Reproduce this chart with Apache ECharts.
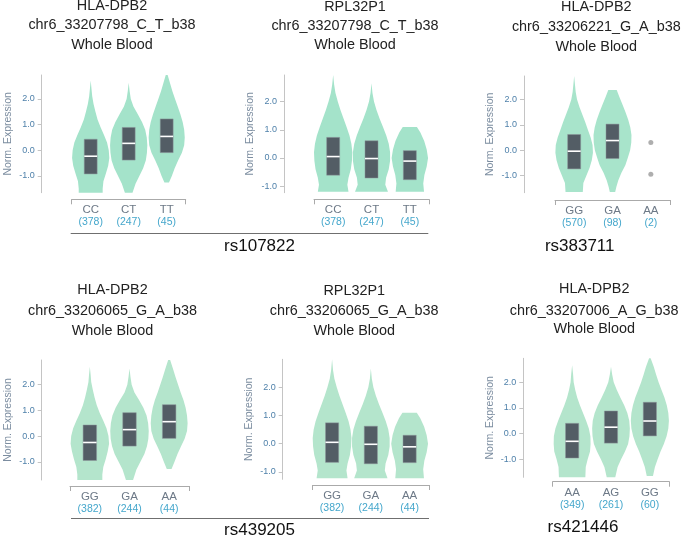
<!DOCTYPE html>
<html><head><meta charset="utf-8">
<script src="https://cdn.jsdelivr.net/npm/echarts@6/dist/echarts.min.js"></script>
<style>html,body{margin:0;padding:0;background:#fff}#c{width:685px;height:537px}</style>
</head><body><div id="c"></div>
<script>
// ---------------- data ----------------
const genes = ['HLA-DPB2','RPL32P1','HLA-DPB2','HLA-DPB2','RPL32P1','HLA-DPB2'];
const variants = ['chr6_33207798_C_T_b38','chr6_33207798_C_T_b38','chr6_33206221_G_A_b38','chr6_33206065_G_A_b38','chr6_33206065_G_A_b38','chr6_33207006_A_G_b38'];
const tissue = 'Whole Blood';
const snps = ['rs107822','rs383711','rs439205','rs421446'];
const genotypes = [['CC','CT','TT'],['CC','CT','TT'],['GG','GA','AA'],['GG','GA','AA'],['GG','GA','AA'],['AA','AG','GG']];
const counts = [[378,247,45],[378,247,45],[570,98,2],[382,244,44],[382,244,44],[349,261,60]];
const yMin = [-1.65,-1.23,-1.68,-1.71,-1.26,-1.70];
const yMax = [2.93,2.94,2.93,2.96,2.99,2.93];
const q1 = [[-0.92,-0.38,-0.09],[-0.61,-0.71,-0.77],[-0.74,-0.33,null],[-0.95,-0.39,-0.09],[-0.66,-0.71,-0.67],[-0.95,-0.37,-0.09]];
const median = [[-0.23,0.27,0.54],[0.05,-0.02,-0.11],[-0.04,0.38,null],[-0.25,0.25,0.56],[0.05,-0.02,-0.11],[-0.30,0.25,0.49]];
const q3 = [[0.43,0.89,1.22],[0.73,0.61,0.26],[0.62,1.03,null],[0.43,0.91,1.22],[0.74,0.62,0.30],[0.40,0.88,1.22]];
const outlierPoints = [[],[],[[2,0.30],[2,-0.95]],[],[],[]];

// violin profiles: [expression, relative density width]
const violin1 = [
  [[2.72,0],[2.4,0.04],[2.1,0.08],[1.8,0.15],[1.5,0.25],[1.2,0.36],[0.9,0.52],[0.6,0.7],[0.3,0.86],[0.0,0.95],[-0.3,0.98],[-0.6,0.92],[-0.9,0.8],[-1.2,0.67],[-1.5,0.63],[-1.65,0.63]],
  [[2.63,0],[2.3,0.05],[2.0,0.11],[1.7,0.25],[1.4,0.48],[1.1,0.7],[0.8,0.87],[0.5,0.95],[0.2,0.98],[-0.1,0.96],[-0.4,0.9],[-0.7,0.76],[-1.0,0.56],[-1.3,0.36],[-1.65,0.2]],
  [[2.93,0.05],[2.6,0.18],[2.3,0.3],[2.0,0.44],[1.7,0.58],[1.4,0.72],[1.1,0.84],[0.8,0.92],[0.5,0.95],[0.2,0.92],[-0.1,0.8],[-0.4,0.6],[-0.7,0.42],[-1.0,0.27],[-1.25,0.12]]
];
const violin2 = [
  [[2.94,0],[2.6,0.05],[2.3,0.12],[2.0,0.24],[1.7,0.38],[1.4,0.54],[1.1,0.7],[0.8,0.85],[0.5,0.95],[0.2,1.0],[-0.1,0.98],[-0.4,0.92],[-0.7,0.8],[-0.95,0.74],[-1.2,0.8]],
  [[2.65,0],[2.3,0.05],[2.0,0.13],[1.7,0.26],[1.4,0.42],[1.1,0.6],[0.8,0.77],[0.5,0.9],[0.2,0.97],[-0.1,0.97],[-0.4,0.9],[-0.7,0.76],[-0.95,0.72],[-1.2,0.86]],
  [[1.1,0.37],[0.9,0.55],[0.6,0.75],[0.3,0.88],[0.0,0.95],[-0.3,0.88],[-0.6,0.76],[-0.9,0.7],[-1.2,0.74]]
];
const violin3 = [
  [[2.93,0],[2.6,0.04],[2.3,0.08],[2.0,0.15],[1.7,0.28],[1.4,0.43],[1.1,0.58],[0.8,0.72],[0.5,0.86],[0.2,0.96],[-0.1,0.98],[-0.4,0.92],[-0.7,0.8],[-1.0,0.64],[-1.3,0.48],[-1.65,0.45]],
  [[2.38,0.22],[2.1,0.36],[1.8,0.52],[1.5,0.68],[1.2,0.82],[0.9,0.93],[0.6,0.99],[0.3,0.98],[0.0,0.92],[-0.3,0.8],[-0.6,0.67],[-0.9,0.46],[-1.2,0.3],[-1.45,0.2],[-1.65,0.14]],
  []
];
const violin4 = [
  [[2.70,0],[2.4,0.04],[2.1,0.07],[1.8,0.15],[1.5,0.24],[1.2,0.35],[0.9,0.5],[0.6,0.68],[0.3,0.84],[0.0,0.94],[-0.3,0.97],[-0.6,0.9],[-0.9,0.8],[-1.2,0.68],[-1.5,0.63],[-1.71,0.63]],
  [[2.63,0],[2.3,0.05],[2.0,0.11],[1.7,0.25],[1.4,0.48],[1.1,0.7],[0.8,0.86],[0.5,0.94],[0.2,0.97],[-0.1,0.95],[-0.4,0.88],[-0.7,0.75],[-1.0,0.55],[-1.3,0.35],[-1.71,0.18]],
  [[2.96,0.05],[2.6,0.2],[2.3,0.32],[2.0,0.45],[1.7,0.58],[1.4,0.72],[1.1,0.83],[0.8,0.9],[0.5,0.93],[0.2,0.9],[-0.1,0.78],[-0.4,0.6],[-0.7,0.42],[-1.0,0.27],[-1.28,0.12]]
];
const violin5 = [
  [[2.99,0],[2.6,0.05],[2.3,0.12],[2.0,0.24],[1.7,0.38],[1.4,0.54],[1.1,0.7],[0.8,0.85],[0.5,0.95],[0.2,1.0],[-0.1,0.98],[-0.4,0.92],[-0.7,0.8],[-0.95,0.74],[-1.22,0.8]],
  [[2.66,0],[2.3,0.05],[2.0,0.13],[1.7,0.26],[1.4,0.42],[1.1,0.6],[0.8,0.77],[0.5,0.9],[0.2,0.97],[-0.1,0.97],[-0.4,0.9],[-0.7,0.76],[-0.95,0.72],[-1.22,0.86]],
  [[1.1,0.37],[0.9,0.55],[0.6,0.75],[0.3,0.88],[0.0,0.95],[-0.3,0.88],[-0.6,0.76],[-0.9,0.7],[-1.22,0.74]]
];
const violin6 = [
  [[2.66,0],[2.3,0.05],[2.0,0.08],[1.7,0.16],[1.4,0.26],[1.1,0.4],[0.8,0.56],[0.5,0.72],[0.2,0.86],[-0.1,0.94],[-0.4,0.95],[-0.7,0.92],[-1.0,0.8],[-1.3,0.7],[-1.7,0.68]],
  [[2.6,0],[2.3,0.06],[2.0,0.14],[1.7,0.3],[1.4,0.48],[1.1,0.68],[0.8,0.84],[0.5,0.94],[0.2,0.97],[-0.1,0.95],[-0.4,0.88],[-0.7,0.72],[-1.0,0.52],[-1.3,0.34],[-1.7,0.22]],
  [[2.93,0.04],[2.6,0.2],[2.3,0.32],[2.0,0.45],[1.7,0.6],[1.4,0.75],[1.1,0.87],[0.8,0.95],[0.5,0.98],[0.2,0.95],[-0.1,0.86],[-0.4,0.72],[-0.7,0.55],[-1.0,0.4],[-1.3,0.26],[-1.65,0.16]]
];
const violins = [violin1, violin2, violin3, violin4, violin5, violin6];

// ---------------- layout (pixels) ----------------
const layout = [
  {left:71.7, top:75,    width:114,   height:117.7, yAxisX:41.7,  xAxisY:199.3},
  {left:314,  top:75,    width:115,   height:117.7, yAxisX:284,   xAxisY:199.3},
  {left:555,  top:76,    width:115,   height:116.7, yAxisX:524,   xAxisY:200},
  {left:70,   top:360,   width:119,   height:120,   yAxisX:41.7,  xAxisY:486},
  {left:312.7,top:359.3, width:116.3, height:120,   yAxisX:282.7, xAxisY:485},
  {left:552.7,top:358.3, width:116.6, height:119,   yAxisX:523.3, xAxisY:481.7}
];
const titlePos = [
  {x:112,   y:[6,25.5,45]},
  {x:355,   y:[6.7,25.8,45]},
  {x:596.3, y:[7.5,26.7,46.7]},
  {x:112.5, y:[290,311,331]},
  {x:354.2, y:[290.8,311,330.8]},
  {x:594.2, y:[289.2,311,329.2]}
];
const snpPos = [[259.5,246.5],[579.7,246.5],[259.5,530],[583,527.5]];
const FONT = '"Liberation Sans", Arial, Helvetica, sans-serif';
const violinColors = ['#a4e3ca','#a4e3ca','#a8e4cb','#b4e5cc','#b4e5cc','#b4e5cc'];

const grids = [], xAxes = [], yAxes = [], series = [], graphics = [];
layout.forEach((L, p) => {
  grids.push({left:L.left, top:L.top, width:L.width, height:L.height, containLabel:false, outerBoundsMode:'none'});
  xAxes.push({
    type:'category', gridIndex:p, data:genotypes[p], boundaryGap:true,
    offset: L.xAxisY - (L.top + L.height),
    axisLine:{show:true, onZero:false, lineStyle:{color:'#aaaaaa', width:1}},
    axisTick:{show:true, interval:(i)=>i===0, length:5, lineStyle:{color:'#aaaaaa'}},
    axisLabel:{interval:0, margin:5, fontFamily:FONT,
      formatter:(v, i)=>'{g|' + v + '}\n{n|(' + counts[p][i] + ')}',
      rich:{g:{color:'#6d7987', fontSize:11.5, lineHeight:12, fontFamily:FONT},
            n:{color:'#45a7cc', fontSize:10.5, lineHeight:12, fontFamily:FONT}}},
    splitLine:{show:false}
  });
  yAxes.push({
    type:'value', gridIndex:p, min:yMin[p], max:yMax[p], splitNumber:5,
    offset: L.left - L.yAxisX,
    axisLine:{show:true, onZero:false, lineStyle:{color:'#c4c4c4', width:1}},
    axisTick:{show:true, length:4, lineStyle:{color:'#c4c4c4'}},
    axisLabel:{show:true, margin:7, color:'#4f81aa', fontSize:9, fontFamily:FONT,
      showMinLabel:false, showMaxLabel:false, formatter:(v)=>v.toFixed(1)},
    splitLine:{show:false},
    name:'Norm. Expression', nameLocation:'middle', nameGap:28,
    nameTextStyle:{color:'#7c8da0', fontSize:10.5, fontFamily:FONT}
  });
  const items = [];
  genotypes[p].forEach((g, i) => { if (violins[p][i].length) items.push([i, median[p][i]]); });
  series.push({
    type:'custom', xAxisIndex:p, yAxisIndex:p, data:items, encode:{x:0, y:1}, clip:false,
    renderItem:(params, api) => {
      const idx = api.value(0);
      const prof = violins[p][idx];
      const bw = api.size([1, 0])[0];
      const cx = api.coord([idx, 0])[0];
      const right = prof.map(([y, w]) => [cx + w * bw / 2, api.coord([idx, y])[1]]);
      const left = prof.slice().reverse().map(([y, w]) => [cx - w * bw / 2, api.coord([idx, y])[1]]);
      const yq1 = api.coord([idx, q1[p][idx]])[1];
      const yq3 = api.coord([idx, q3[p][idx]])[1];
      const ym = api.coord([idx, median[p][idx]])[1];
      const hw = bw * 0.17;
      return {type:'group', children:[
        {type:'polygon', shape:{points:right.concat(left)}, style:{fill:violinColors[p], stroke:null}},
        {type:'rect', shape:{x:cx - hw, y:yq3, width:hw * 2, height:yq1 - yq3},
          style:{fill:'#535d65', stroke:'#8e979d', lineWidth:0.5}},
        {type:'line', shape:{x1:cx - hw, y1:ym, x2:cx + hw, y2:ym}, style:{stroke:'#ffffff', lineWidth:1.6}}
      ]};
    }
  });
  if (outlierPoints[p].length) {
    series.push({type:'scatter', xAxisIndex:p, yAxisIndex:p, data:outlierPoints[p],
      symbolSize:5, itemStyle:{color:'#9a9a9a'}, silent:true});
  }
  const lines = [genes[p], variants[p], tissue];
  lines.forEach((t, k) => {
    graphics.push({type:'text', x:titlePos[p].x, y:titlePos[p].y[k], silent:true,
      style:{text:t, fill:'#222222', font:'14.4px ' + FONT, textAlign:'center', textVerticalAlign:'middle'}});
  });
});
snps.forEach((s, k) => {
  graphics.push({type:'text', x:snpPos[k][0], y:snpPos[k][1], silent:true,
    style:{text:s, fill:'#111111', font:'17px ' + FONT, textAlign:'center', textVerticalAlign:'middle'}});
});
graphics.push({type:'line', silent:true, shape:{x1:70.7, y1:233.5, x2:428.3, y2:233.5}, style:{stroke:'#6f6f6f', lineWidth:1}});
graphics.push({type:'line', silent:true, shape:{x1:71, y1:518.5, x2:429, y2:518.5}, style:{stroke:'#6f6f6f', lineWidth:1}});

const chart = echarts.init(document.getElementById('c'), null, {renderer:'canvas'});
chart.setOption({
  animation:false,
  backgroundColor:'#ffffff',
  textStyle:{fontFamily:FONT},
  grid:grids, xAxis:xAxes, yAxis:yAxes, series:series, graphic:graphics
});
</script></body></html>
